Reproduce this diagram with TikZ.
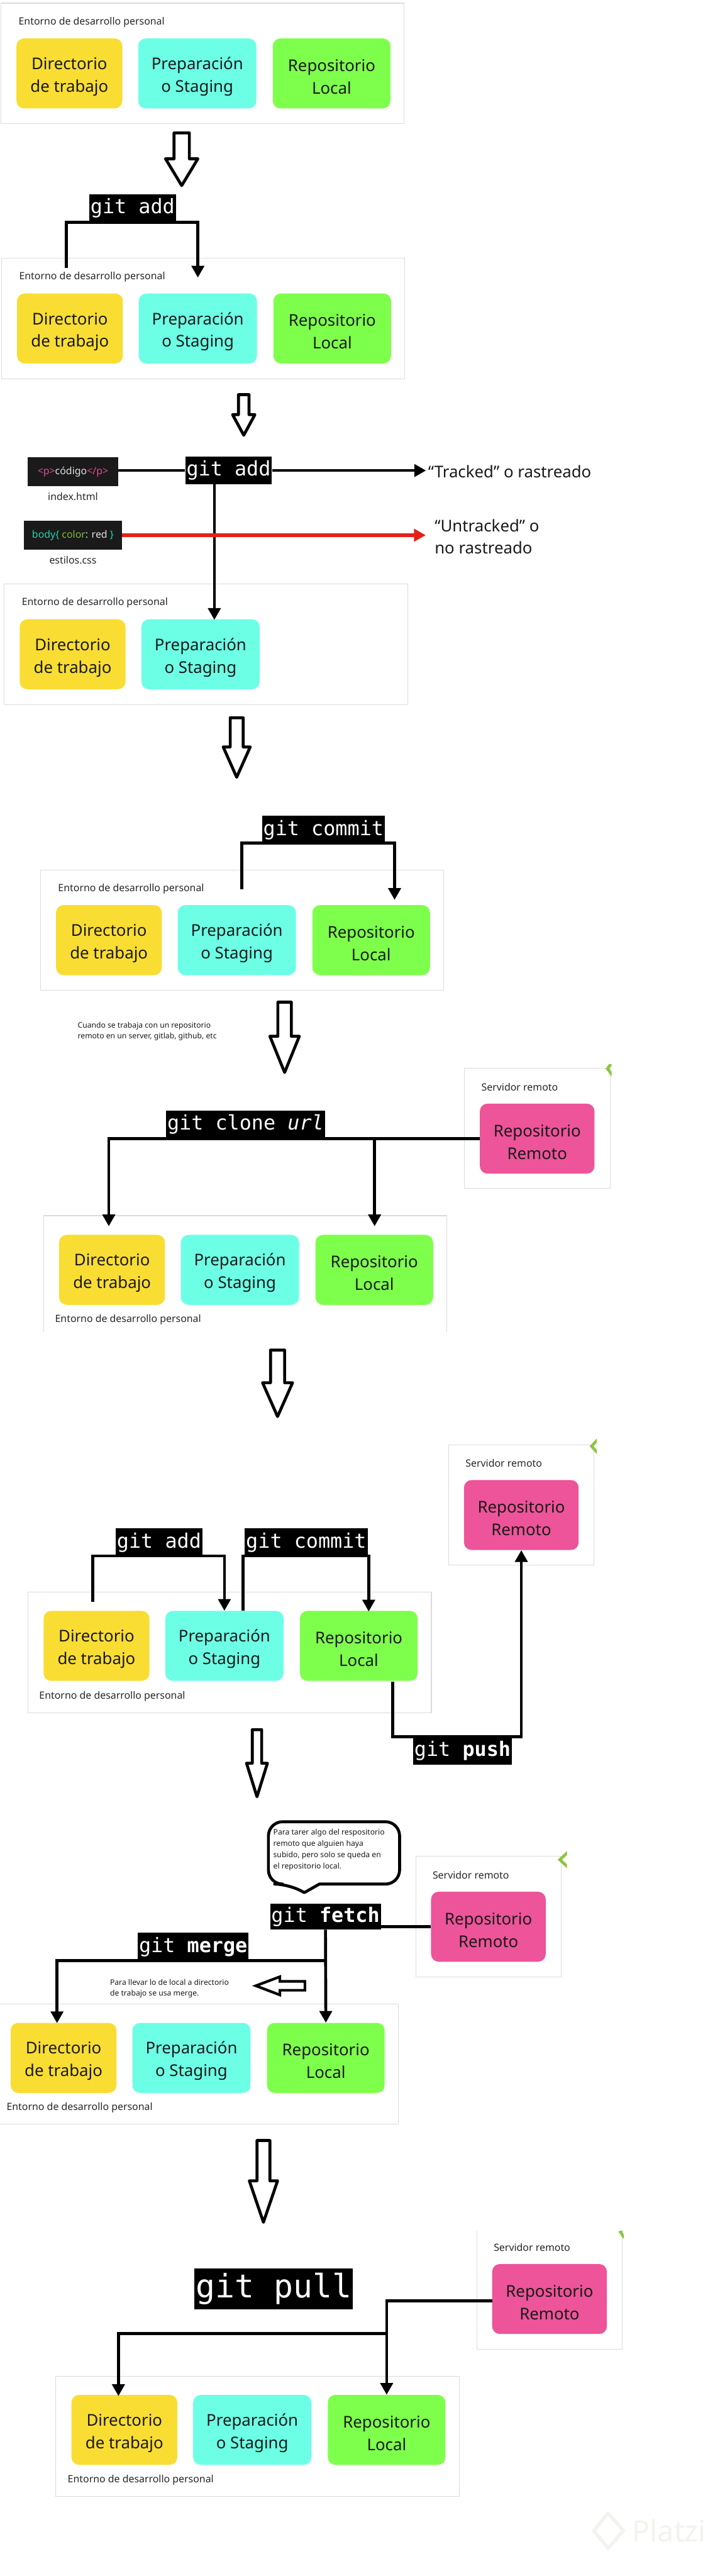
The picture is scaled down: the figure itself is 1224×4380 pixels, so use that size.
\documentclass[tikz,border=0pt]{standalone}
\usepackage{fontspec}
\setmainfont{Noto Sans}
\setmonofont{DejaVu Sans Mono}
\usetikzlibrary{arrows.meta}

\definecolor{amarillo}{HTML}{F9DD33}
\definecolor{turquesa}{HTML}{6CFFE6}
\definecolor{verde}{HTML}{7EFF4B}
\definecolor{rosa}{HTML}{ED5499}
\definecolor{gris}{HTML}{DCDCDC}
\definecolor{oscuro}{HTML}{1A1A1A}
\definecolor{rojo}{HTML}{E32219}
\definecolor{tagrosa}{HTML}{E04A92}
\definecolor{cssteal}{HTML}{26D0AC}
\definecolor{cssverde}{HTML}{7FB93A}
\definecolor{pasto}{HTML}{8CC63F}
\definecolor{marca}{HTML}{F1F4EC}

\tikzset{
  marco/.style={draw=gris, line width=1.2pt},
  texto/.style={inner sep=0pt, align=center, text=black!90, font=\fontsize{27.6}{38.4}\selectfont},
  caja/.style={texto, minimum height=119pt, rounded corners=13pt, text height=70pt},
  rotulo/.style={anchor=west, inner sep=0pt, text=black!85, font=\fontsize{17}{19}\selectfont},
  nota/.style={anchor=west, inner sep=0pt, align=left, text=black!90, font=\fontsize{13}{19.2}\selectfont},
  comando/.style={fill=black, text=white, inner xsep=2pt, inner ysep=0pt, minimum height=47pt,
    font=\ttfamily\fontsize{34}{34}\selectfont},
  codigo/.style={fill=oscuro, inner sep=0pt, minimum height=50pt, text=white!88!black,
    font=\fontsize{17}{19}\selectfont},
  linea/.style={draw=black, line width=5pt},
  flecha/.style={linea, -{Triangle[length=20pt,width=21pt]}},
  hueco/.style={draw=black, fill=white, line width=5pt, line join=round},
  pico/.style={draw=pasto, line width=5pt}
}

% tres cajas: nombre, x, y del marco, bajada de cajas, rotulo dx, rotulo dy
\newcommand{\cajasdos}[6]{%
  \node[rotulo] (ent#1) at (#2+#5,#3+#6) {Entorno de desarrollo personal};
  \node[caja, fill=amarillo, minimum width=180pt] (dir#1) at (#2+116.5,#3+#4+59.5) {Directorio\\de trabajo};
  \node[caja, fill=turquesa, minimum width=201pt] (prep#1) at (#2+334,#3+#4+59.5) {Preparación\\o Staging};
}
\newcommand{\cajalocal}[4]{%
  \node[caja, fill=verde, minimum width=200pt] (loc#1) at (#2+562.5,#3+#4+59.5) {Repositorio\\Local};
}
% servidor: nombre, x, y del marco, y de la caja, rotulo y
\newcommand{\remoto}[5]{%
  \node[rotulo] (serv#1) at (#2+28.5,#5) {Servidor remoto};
  \node[caja, fill=rosa, minimum width=195pt] (rem#1) at (#2+123.5,#4+60) {Repositorio\\Remoto};
}

\begin{document}
\begin{tikzpicture}[x=1pt, y=-1pt]
  \useasboundingbox (0,0) rectangle (1224,4380);

  % === flechas huecas entre pasos ===
  \foreach \xc/\sh/\hd/\ya/\ym/\yt in {309/13/27.5/226/270/315.5, 414.5/9/19/671/705/740,
      402.5/11/23/1220.5/1270/1321.5, 484/11.5/25/1704/1762/1823.5, 472/12/25.5/2295.5/2351/2408.5,
      437/8/17.75/2941/2998/3055, 448/11/24/3639.5/3708/3778.5} {
    \draw[hueco] (\xc-\sh,\ya) -- (\xc+\sh,\ya) -- (\xc+\sh,\ym) -- (\xc+\hd,\ym)
      -- (\xc,\yt) -- (\xc-\hd,\ym) -- (\xc-\sh,\ym) -- cycle;
  }

  % === entornos completos (marco y tres cajas) ===
  \foreach \n/\fx/\fy/\bj/\lx/\ly in {1/1.5/5.4/60/30/32, 2/2.5/439/60/30/32, 4/68.7/1479/60/30/32,
      6/47.6/2707/32/19/177, 7/-8.4/3407/32.5/19.5/177, 8/95/4040/32/20/177} {
    \draw[marco] (\fx,\fy) rectangle (\fx+686,\fy+205);
    \cajasdos{\n}{\fx}{\fy}{\bj}{\lx}{\ly}
    \cajalocal{\n}{\fx}{\fy}{\bj}
  }

  % === paso 3: sin repositorio local ===
  \draw[marco] (7,992.7) rectangle (693,1198);
  \cajasdos{3}{7}{992.7}{60.3}{30}{32}

  % === paso 5: marco abierto por abajo ===
  \draw[marco] (74,2265) -- (74,2067) -- (760,2067) -- (760,2265);
  \cajasdos{5}{74}{2067}{32.6}{19.5}{177}
  \cajalocal{5}{74}{2067}{32.6}

  % === servidores remotos ===
  \draw[marco] (790,1816) rectangle (1037.5,2020.5);
  \remoto{5}{790}{1816}{1876}{1848}
  \draw[marco] (763,2456.6) rectangle (1010,2661);
  \remoto{6}{763}{2456.6}{2516}{2488}
  \draw[marco] (707,3156) rectangle (954,3361);
  \remoto{7}{707}{3156}{3216}{3188}
  \draw[marco] (811,3793) -- (811,3994) -- (1058.5,3994) -- (1058.5,3793);
  \remoto{8}{811}{3793}{3849}{3821}

  % marcas verdes en la esquina
  \begin{scope}
    \clip (1030,1810) rectangle (1040,1830);
    \draw[pico] (1042,1805) -- (1033,1817) -- (1042,1829);
  \end{scope}
  \begin{scope}
    \clip (1000,2440) rectangle (1015,2475);
    \draw[pico] (1018,2446) -- (1006,2459) -- (1018,2472);
  \end{scope}
  \begin{scope}
    \clip (945,3145) rectangle (964,3180);
    \draw[pico] (966,3149) -- (952,3162) -- (966,3175);
  \end{scope}
  \begin{scope}
    \clip (1050,3793) rectangle (1061,3805);
    \draw[pico] (1063,3783) -- (1055,3795) -- (1063,3807);
  \end{scope}

  % === paso 2: git add ===
  \node[comando, minimum height=48pt] (add2) at (225.5,354) {git add};
  \coordinate (a2i) at (113,455);
  \coordinate (a2f) at (336.5,472);
  \draw[flecha] (a2i) |- (add2.south) -| (a2f);

  % === paso 3: tracked / untracked ===
  \node[codigo, minimum width=154pt] (html3) at (124,802) {\textcolor{tagrosa}{\bfseries <p>}código\textcolor{tagrosa}{\bfseries </p>}};
  \node[codigo, minimum width=167pt] (css3) at (124,910) {\textcolor{cssteal}{\bfseries body\{} \textcolor{cssverde}{color}: red \textcolor{cssteal}{\bfseries \}}};
  \node[rotulo, anchor=center] (ind3) at (124,844) {index.html};
  \node[rotulo, anchor=center] (est3) at (124,952) {estilos.css};
  \node[comando] (add3) at (388.7,800) {git add};
  \coordinate (tr3) at (724.5,800);
  \coordinate (un3) at (724,910);
  \coordinate (v3) at (364.5,1054);
  \node[texto, anchor=west] (trk3) at (728,801.6) {“Tracked” o rastreado};
  \node[texto, anchor=west, align=left] (unt3) at (739,912.5) {“Untracked” o\\no rastreado};
  \draw[linea] (html3.east |- add3) -- (add3);
  \draw[flecha] (add3) -- (tr3);
  \draw[flecha] (v3 |- add3.south) -- (v3);
  \draw[flecha, draw=rojo, fill=rojo, line width=6.5pt] (css3.east) -- (un3);

  % === paso 4: git commit ===
  \node[comando, minimum height=49pt] (com4) at (550,1411) {git commit};
  \coordinate (c4i) at (411.4,1512);
  \coordinate (c4f) at (671,1530);
  \draw[flecha] (c4i) |- ([yshift=2.5pt]com4.south) -| (c4f);

  \node[nota] (nota4) at (132,1753.5) {Cuando se trabaja con un repositorio\\remoto en un server, gitlab, github, etc};

  % === paso 5: git clone ===
  \node[comando, minimum height=48pt] (clo5) at (417.5,1912) {git clone \textit{url}};
  \coordinate (c5i) at (185,2085);
  \coordinate (c5d) at (637,2085);
  \draw[flecha] (rem5.west) -| (c5i);
  \draw[flecha] (c5d |- rem5.west) -- (c5d);

  % === paso 6: add, commit, push ===
  \node[comando, minimum height=49.5pt] (add6) at (270.5,2623.2) {git add};
  \node[comando, minimum height=49.5pt] (com6) at (520.7,2623.2) {git commit};
  \node[comando] (pus6) at (786.5,2976.5) {git \textbf{push}};
  \coordinate (a6i) at (157.7,2723.5);
  \coordinate (c6i) at (413,2738);
  \coordinate (c6f) at (627,2740);
  \coordinate (p6i) at (668,2859);
  \draw[flecha] (a6i) |- ([yshift=2.5pt]add6.south) -| (prep6.north);
  \draw[flecha] (c6i) |- ([yshift=2.5pt]com6.south) -| (c6f);
  \draw[flecha] (p6i) |- (pus6.north) -| (rem6.south);

  % === paso 7: fetch y merge ===
  \draw[hueco, rounded corners=24pt] (543,3203.5) -- (679.5,3203.5) -- (679.5,3097.5) -- (456.5,3097.5)
    -- (456.5,3203.5) -- (491,3203.5) [sharp corners] -- (517.5,3218) -- cycle;
  \node[nota] (bur7) at (464.6,3145.5) {Para tarer algo del respositorio\\remoto que alguien haya\\subido, pero solo se queda en\\el repositorio local.};
  \node[comando, minimum height=44pt] (fet7) at (553.5,3259) {git \textbf{fetch}};
  \node[comando, minimum height=47.5pt] (mer7) at (328.5,3310) {git \textbf{merge}};
  \coordinate (m7i) at (97,3440);
  \draw[linea] (rem7.west) -- (rem7.west -| fet7.east);
  \draw[flecha] (fet7.south) -- (loc7.north);
  \draw[flecha] (fet7 |- mer7.south) -| (m7i);
  \node[nota] (nota7) at (187,3381) {Para llevar lo de local a directorio\\de trabajo se usa merge.};
  \draw[hueco, line width=4.5pt, line join=miter] (518.5,3369) -- (518.5,3384) -- (476,3384) -- (476,3392)
    -- (435,3376.4) -- (476,3361) -- (476,3369) -- cycle;

  % === paso 8: git pull ===
  \node[comando, minimum height=69.5pt, font=\ttfamily\fontsize{55}{55}\selectfont] (pul8) at (465.3,3891.3) {git pull};
  \coordinate (p8b) at (657.5,3967.5);
  \coordinate (p8i) at (201.4,4074);
  \draw[flecha] ([yshift=-3pt]rem8.west) -| (loc8.north);
  \draw[flecha] (p8b) -| (p8i);

  % === marca de agua ===
  \draw[draw=marca, line width=6pt, line join=round] (1034,4273) -- (1060,4303) -- (1034,4333) -- (1010,4303) -- cycle;
  \node[anchor=west, inner sep=0pt, text=marca, font=\fontsize{50}{50}\selectfont] (plz) at (1075,4303) {Platzi};
\end{tikzpicture}
\end{document}
